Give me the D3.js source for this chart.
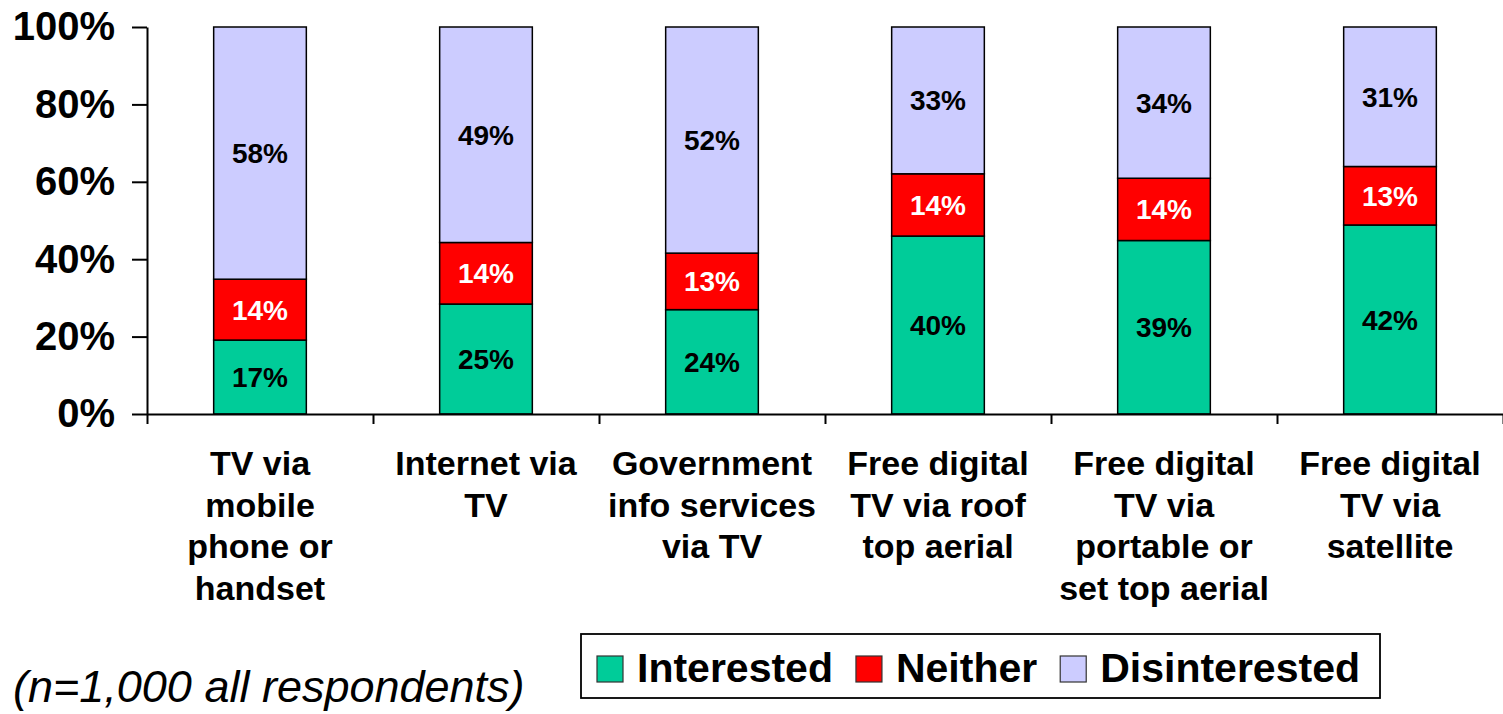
<!DOCTYPE html>
<html>
<head>
<meta charset="utf-8">
<script src="https://cdn.jsdelivr.net/npm/d3@7"></script>
<style>
  html, body { margin: 0; padding: 0; background: #fff; }
  svg { display: block; }
  text { font-family: "Liberation Sans", Arial, Helvetica, sans-serif; }
</style>
</head>
<body>
<svg id="chart" width="1503" height="714"></svg>
<script>
// Survey categories (line breaks as set in the axis labels)
const categories = [
  "TV via\nmobile\nphone or\nhandset",
  "Internet via\nTV",
  "Government\ninfo services\nvia TV",
  "Free digital\nTV via roof\ntop aerial",
  "Free digital\nTV via\nportable or\nset top aerial",
  "Free digital\nTV via\nsatellite"
];
const seriesNames = ["Interested", "Neither", "Disinterested"];
const interested    = [17, 25, 24, 40, 39, 42];
const neither       = [14, 14, 13, 14, 14, 13];
const disinterested = [58, 49, 52, 33, 34, 31];
const yTicks = [0, 0.2, 0.4, 0.6, 0.8, 1.0];
const note = "(n=1,000 all respondents)";

const colors = { Interested: "#00CC99", Neither: "#FF0000", Disinterested: "#CCCCFF" };
const labelColors = { Interested: "#000", Neither: "#fff", Disinterested: "#000" };

const rows = categories.map((c, i) => ({
  cat: c,
  Interested: interested[i],
  Neither: neither[i],
  Disinterested: disinterested[i]
}));

const svg = d3.select("#chart");
const plotLeft = 147, plotRight = 1503, plotTop = 27, plotBottom = 414;

const x = d3.scaleBand().domain(categories).range([plotLeft, plotRight])
  .paddingInner(0.59).paddingOuter(0.295);
const y = d3.scaleLinear().domain([0, 1]).range([plotBottom, plotTop]);

// 100% stacked layout
const stacked = d3.stack().keys(seriesNames).offset(d3.stackOffsetExpand)(rows);

const layers = svg.append("g").selectAll("g")
  .data(stacked).join("g")
  .attr("fill", d => colors[d.key]);

layers.selectAll("rect")
  .data(d => d.map(p => Object.assign(p, { key: d.key })))
  .join("rect")
  .attr("x", d => x(d.data.cat))
  .attr("width", x.bandwidth())
  .attr("y", d => y(d[1]))
  .attr("height", d => y(d[0]) - y(d[1]))
  .attr("stroke", "#000")
  .attr("stroke-width", 1.5);

// value labels
layers.selectAll("text")
  .data(d => d)
  .join("text")
  .attr("x", d => x(d.data.cat) + x.bandwidth() / 2)
  .attr("y", d => (y(d[0]) + y(d[1])) / 2)
  .attr("dy", "0.36em")
  .attr("text-anchor", "middle")
  .attr("font-size", 28)
  .attr("font-weight", "bold")
  .attr("fill", d => labelColors[d.key])
  .text(d => d.data[d.key] + "%");

// y axis
const yAxis = svg.append("g")
  .attr("transform", `translate(${plotLeft},0)`)
  .call(d3.axisLeft(y).tickValues(yTicks).tickFormat(d3.format(".0%"))
    .tickSize(15).tickSizeOuter(0).tickPadding(17));
yAxis.selectAll("path, line").attr("stroke", "#000").attr("stroke-width", 2);
yAxis.selectAll("text")
  .attr("font-size", 40).attr("font-weight", "bold").attr("fill", "#000")
  .attr("font-family", "'Liberation Sans', Arial, sans-serif");

// x axis with tick marks on the category boundaries
const xb = d3.scaleLinear().domain([0, categories.length]).range([plotLeft, plotRight]);
const xAxis = svg.append("g")
  .attr("transform", `translate(0,${plotBottom})`)
  .call(d3.axisBottom(xb).tickValues(d3.range(categories.length + 1))
    .tickFormat("").tickSize(10).tickSizeOuter(0));
xAxis.selectAll("path, line").attr("stroke", "#000").attr("stroke-width", 2);

// category labels
const catLabels = svg.append("g").selectAll("text")
  .data(categories).join("text")
  .attr("text-anchor", "middle")
  .attr("font-size", 34)
  .attr("font-weight", "bold")
  .attr("fill", "#000")
  .attr("transform", d => `translate(${x(d) + x.bandwidth() / 2},475)`);
catLabels.selectAll("tspan")
  .data(d => d.split("\n")).join("tspan")
  .attr("x", 0)
  .attr("y", (d, i) => i * 41.5)
  .text(d => d);

// respondent note
svg.append("text")
  .attr("x", 13).attr("y", 702)
  .attr("font-size", 45)
  .attr("font-style", "italic")
  .attr("fill", "#000")
  .text(note);

// legend
const legend = svg.append("g");
legend.append("rect")
  .attr("x", 581).attr("y", 634)
  .attr("width", 799).attr("height", 64)
  .attr("fill", "#fff").attr("stroke", "#000").attr("stroke-width", 1.8);
let lx = 597;
seriesNames.forEach(name => {
  legend.append("rect")
    .attr("x", lx).attr("y", 656).attr("width", 26).attr("height", 26)
    .attr("fill", colors[name]).attr("stroke", "#333").attr("stroke-width", 1.2);
  const t = legend.append("text")
    .attr("x", lx + 40).attr("y", 682)
    .attr("font-size", 41).attr("font-weight", "bold").attr("fill", "#000")
    .text(name);
  lx += 40 + t.node().getComputedTextLength() + 23;
});
</script>
</body>
</html>
